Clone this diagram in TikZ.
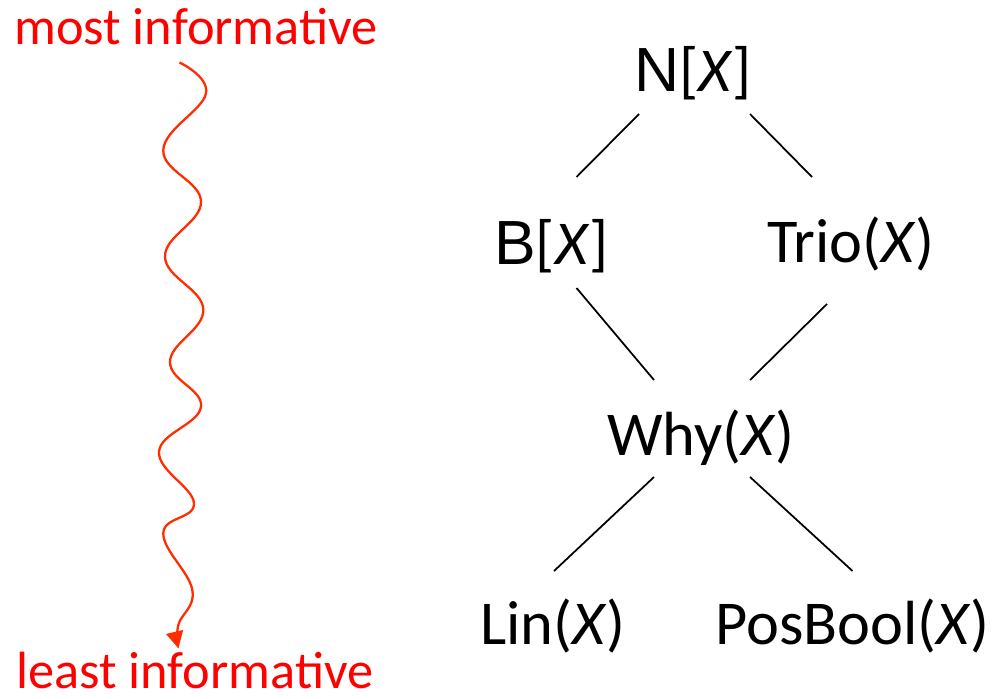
\documentclass[tikz,border=0pt]{standalone}
\usepackage{fontspec}
\setmainfont{Carlito}
\newfontfamily\arialfont{Liberation Sans}
\usetikzlibrary{arrows.meta}
\definecolor{wavered}{RGB}{255,45,0}

\begin{document}
\begin{tikzpicture}[
    lbl/.style={inner sep=0,anchor=base,font=\fontsize{35.5}{40}\selectfont},
    redlbl/.style={inner sep=0,anchor=base,text=red,font=\fontsize{29.8}{36}\selectfont},
    edge/.style={line width=1pt},
    wave/.style={wavered,line width=1.3pt,-{Triangle[width=0.34cm,length=0.34cm]}}
  ]
            \useasboundingbox (0,0) rectangle (19.9,-13.98);

            \node[redlbl] (most) at (3.92,-0.9) {most informative};
            \node[redlbl] (least) at (3.9,-13.76) {least informative};
            \coordinate (wtop) at ([shift={(-0.33,-0.35)}]most.base);
            \coordinate (wbot) at ([shift={(-0.33,0.79)}]least.base);
            \draw[wave] plot[smooth,tension=0.7] coordinates {(wtop) (4.12,-1.866) (3.266,-3.0) (4.02,-4.034) (3.30,-5.134) (4.066,-6.186) (3.40,-7.234) (4.02,-8.134) (3.18,-9.034) (3.88,-10.066) (3.266,-10.666) (3.846,-11.8) (3.566,-12.5) (wbot)};

            \node[lbl] (nx) at (13.86,-1.84) {{\arialfont N}[\textit{X}]};
            \node[lbl] (bx) at (11.03,-5.30) {{\arialfont B}[\textit{X}]};
            \node[lbl] (trio) at (17.02,-5.26) {Trio(\textit{X})};
            \node[lbl] (why) at (14.02,-9.10) {Why(\textit{X})};
            \node[lbl] (lin) at (11.06,-12.88) {Lin(\textit{X})};
            \node[lbl] (posbool) at (17.05,-12.88) {PosBool(\textit{X})};

            \draw[edge] ([shift={(-1.08,-0.44)}]nx.base) -- ([shift={(0.50,1.76)}]bx.base);
            \draw[edge] ([shift={(1.14,-0.44)}]nx.base) -- ([shift={(-0.78,1.72)}]trio.base);
            \draw[edge] ([shift={(0.50,-0.46)}]bx.base) -- ([shift={(-0.94,1.50)}]why.base);
            \draw[edge] ([shift={(-0.48,-0.82)}]trio.base) -- ([shift={(0.98,1.50)}]why.base);
            \draw[edge] ([shift={(-0.94,-0.44)}]why.base) -- ([shift={(0.02,1.46)}]lin.base);
            \draw[edge] ([shift={(0.98,-0.44)}]why.base) -- ([shift={(0,1.46)}]posbool.base);
        \end{tikzpicture}
\end{document}
